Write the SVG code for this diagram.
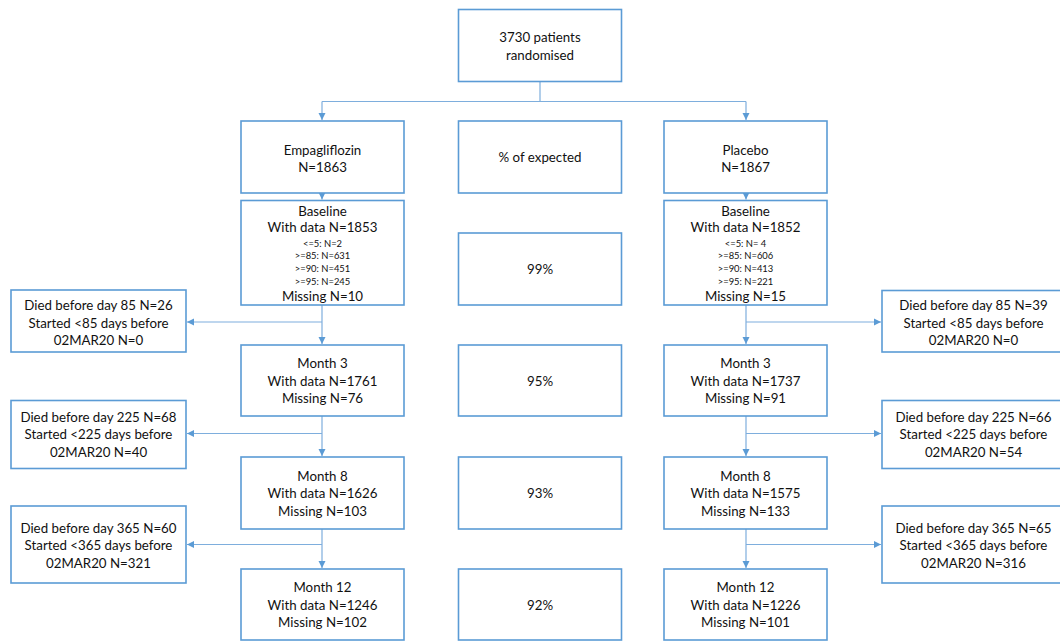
<svg xmlns="http://www.w3.org/2000/svg" width="1060" height="641" viewBox="0 0 1060 641">
<defs>
<marker id="arr" markerWidth="8" markerHeight="8" refX="7" refY="4" orient="auto" markerUnits="userSpaceOnUse">
<path d="M0,0.5 L7,4 L0,7.5 Z" fill="#5B9BD5"/>
</marker>
<style>
.box{fill:#fff;stroke:#5B9BD5;stroke-width:1.6}
.t{font-family:Lato,"Open Sans",sans-serif;font-size:13.3px;fill:#111;text-anchor:middle}
.s{font-family:Lato,"Open Sans",sans-serif;font-size:9.4px;fill:#111;text-anchor:middle}
.c{fill:none;stroke:#7EAEDD;stroke-width:1.2}
</style>
</defs>
<rect width="1060" height="641" fill="#fff"/>
<g id="connectors">
<path class="c" d="M540,81 V101.5 H322 M540,101.5 H746"/>
<path class="c" d="M322,101.5 V120" marker-end="url(#arr)"/>
<path class="c" d="M746,101.5 V120" marker-end="url(#arr)"/>
<path class="c" d="M322,193 V199.5" marker-end="url(#arr)"/>
<path class="c" d="M746,193 V199.5" marker-end="url(#arr)"/>
<path class="c" d="M322,305 V344" marker-end="url(#arr)"/>
<path class="c" d="M322,322 H187" marker-end="url(#arr)"/>
<path class="c" d="M746,305 V344" marker-end="url(#arr)"/>
<path class="c" d="M746,322 H881" marker-end="url(#arr)"/>
<path class="c" d="M322,416 V456" marker-end="url(#arr)"/>
<path class="c" d="M322,433.5 H187" marker-end="url(#arr)"/>
<path class="c" d="M746,416 V456" marker-end="url(#arr)"/>
<path class="c" d="M746,433.5 H881" marker-end="url(#arr)"/>
<path class="c" d="M322,529 V568" marker-end="url(#arr)"/>
<path class="c" d="M322,544.5 H187" marker-end="url(#arr)"/>
<path class="c" d="M746,529 V568" marker-end="url(#arr)"/>
<path class="c" d="M746,544.5 H881" marker-end="url(#arr)"/>
</g>
<g id="randomised"><rect class="box" x="458.5" y="9.5" width="163" height="72"/><text class="t" x="540" y="42">3730 patients</text><text class="t" x="540" y="60">randomised</text></g>
<g id="empa"><rect class="box" x="241" y="121" width="163" height="72"/><text class="t" x="322.5" y="155">Empagliflozin</text><text class="t" x="322.5" y="172">N=1863</text></g>
<g id="expected"><rect class="box" x="458.5" y="121" width="163" height="72"/><text class="t" x="540" y="162">% of expected</text></g>
<g id="placebo"><rect class="box" x="664" y="121" width="163" height="72"/><text class="t" x="745.5" y="155">Placebo</text><text class="t" x="745.5" y="172">N=1867</text></g>
<g id="empa-baseline"><rect class="box" x="241" y="200.5" width="163" height="104.5"/>
<text class="t" x="322.5" y="215.5">Baseline</text><text class="t" x="322.5" y="232">With data N=1853</text>
<text class="s" x="322.5" y="246.5">&lt;=5: N=2</text><text class="s" x="322.5" y="259.2">&gt;=85: N=631</text><text class="s" x="322.5" y="271.9">&gt;=90: N=451</text><text class="s" x="322.5" y="284.6">&gt;=95: N=245</text>
<text class="t" x="322.5" y="301">Missing N=10</text></g>
<g id="pct-baseline"><rect class="box" x="458.5" y="233" width="163" height="72"/><text class="t" x="540" y="274">99%</text></g>
<g id="plac-baseline"><rect class="box" x="664" y="200.5" width="163" height="104.5"/>
<text class="t" x="745.5" y="215.5">Baseline</text><text class="t" x="745.5" y="232">With data N=1852</text>
<text class="s" x="745.5" y="246.5">&lt;=5: N= 4</text><text class="s" x="745.5" y="259.2">&gt;=85: N=606</text><text class="s" x="745.5" y="271.9">&gt;=90: N=413</text><text class="s" x="745.5" y="284.6">&gt;=95: N=221</text>
<text class="t" x="745.5" y="301">Missing N=15</text></g>
<g id="empa-excl1"><rect class="box" x="11" y="290" width="175" height="62"/><text class="t" x="98.5" y="310">Died before day 85 N=26</text><text class="t" x="98.5" y="327.5">Started &lt;85 days before</text><text class="t" x="98.5" y="345">02MAR20 N=0</text></g>
<g id="plac-excl1"><rect class="box" x="882" y="290.5" width="183" height="61.5"/><text class="t" x="973.5" y="310">Died before day 85 N=39</text><text class="t" x="973.5" y="327.5">Started &lt;85 days before</text><text class="t" x="973.5" y="345">02MAR20 N=0</text></g>
<g id="empa-m3"><rect class="box" x="241" y="345" width="163" height="71"/><text class="t" x="322.5" y="368">Month 3</text><text class="t" x="322.5" y="385.5">With data N=1761</text><text class="t" x="322.5" y="403">Missing N=76</text></g>
<g id="pct-m3"><rect class="box" x="458.5" y="345" width="163" height="71"/><text class="t" x="540" y="385.5">95%</text></g>
<g id="plac-m3"><rect class="box" x="664" y="345" width="163" height="71"/><text class="t" x="745.5" y="368">Month 3</text><text class="t" x="745.5" y="385.5">With data N=1737</text><text class="t" x="745.5" y="403">Missing N=91</text></g>
<g id="empa-excl2"><rect class="box" x="11" y="400.5" width="175" height="68"/><text class="t" x="98.5" y="421.7">Died before day 225 N=68</text><text class="t" x="98.5" y="439.3">Started &lt;225 days before</text><text class="t" x="98.5" y="456.7">02MAR20 N=40</text></g>
<g id="plac-excl2"><rect class="box" x="882" y="400.5" width="183" height="68"/><text class="t" x="973.5" y="421.7">Died before day 225 N=66</text><text class="t" x="973.5" y="439.3">Started &lt;225 days before</text><text class="t" x="973.5" y="456.7">02MAR20 N=54</text></g>
<g id="empa-m8"><rect class="box" x="241" y="457" width="163" height="72"/><text class="t" x="322.5" y="480.5">Month 8</text><text class="t" x="322.5" y="498">With data N=1626</text><text class="t" x="322.5" y="515.5">Missing N=103</text></g>
<g id="pct-m8"><rect class="box" x="458.5" y="457" width="163" height="72"/><text class="t" x="540" y="498">93%</text></g>
<g id="plac-m8"><rect class="box" x="664" y="457" width="163" height="72"/><text class="t" x="745.5" y="480.5">Month 8</text><text class="t" x="745.5" y="498">With data N=1575</text><text class="t" x="745.5" y="515.5">Missing N=133</text></g>
<g id="empa-excl3"><rect class="box" x="11" y="506" width="175" height="77"/><text class="t" x="98.5" y="533">Died before day 365 N=60</text><text class="t" x="98.5" y="550">Started &lt;365 days before</text><text class="t" x="98.5" y="567.7">02MAR20 N=321</text></g>
<g id="plac-excl3"><rect class="box" x="882" y="506" width="183" height="77"/><text class="t" x="973.5" y="533">Died before day 365 N=65</text><text class="t" x="973.5" y="550">Started &lt;365 days before</text><text class="t" x="973.5" y="567.7">02MAR20 N=316</text></g>
<g id="empa-m12"><rect class="box" x="241" y="569" width="163" height="71"/><text class="t" x="322.5" y="592">Month 12</text><text class="t" x="322.5" y="609.5">With data N=1246</text><text class="t" x="322.5" y="627">Missing N=102</text></g>
<g id="pct-m12"><rect class="box" x="458.5" y="569" width="163" height="71"/><text class="t" x="540" y="609.5">92%</text></g>
<g id="plac-m12"><rect class="box" x="664" y="569" width="163" height="71"/><text class="t" x="745.5" y="592">Month 12</text><text class="t" x="745.5" y="609.5">With data N=1226</text><text class="t" x="745.5" y="627">Missing N=101</text></g>
</svg>
